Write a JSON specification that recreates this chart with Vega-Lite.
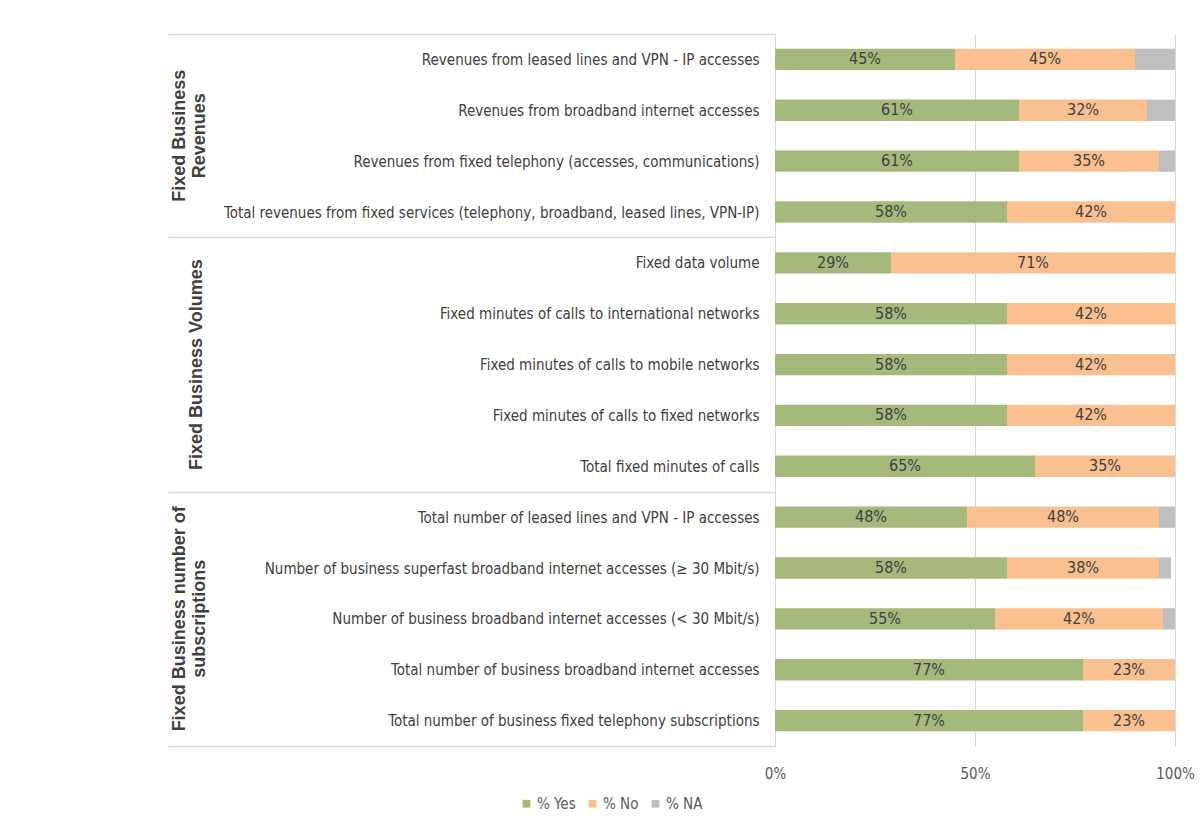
{
  "$schema": "https://vega.github.io/schema/vega-lite/v6.json",
  "width": 400,
  "height": 712,
  "padding": {"left": 167, "top": 27, "right": 15, "bottom": 15},
  "background": "white",
  "datasets": {
    "answers": [
      {"item": "Revenues from leased lines and VPN - IP accesses", "answer": "% Yes", "pct": 0.45},
      {"item": "Revenues from leased lines and VPN - IP accesses", "answer": "% No", "pct": 0.45},
      {"item": "Revenues from leased lines and VPN - IP accesses", "answer": "% NA", "pct": 0.10},
      {"item": "Revenues from broadband internet accesses", "answer": "% Yes", "pct": 0.61},
      {"item": "Revenues from broadband internet accesses", "answer": "% No", "pct": 0.32},
      {"item": "Revenues from broadband internet accesses", "answer": "% NA", "pct": 0.07},
      {"item": "Revenues from fixed telephony (accesses, communications)", "answer": "% Yes", "pct": 0.61},
      {"item": "Revenues from fixed telephony (accesses, communications)", "answer": "% No", "pct": 0.35},
      {"item": "Revenues from fixed telephony (accesses, communications)", "answer": "% NA", "pct": 0.04},
      {"item": "Total revenues from fixed services (telephony, broadband, leased lines, VPN-IP)", "answer": "% Yes", "pct": 0.58},
      {"item": "Total revenues from fixed services (telephony, broadband, leased lines, VPN-IP)", "answer": "% No", "pct": 0.42},
      {"item": "Fixed data volume", "answer": "% Yes", "pct": 0.29},
      {"item": "Fixed data volume", "answer": "% No", "pct": 0.71},
      {"item": "Fixed minutes of calls to international networks", "answer": "% Yes", "pct": 0.58},
      {"item": "Fixed minutes of calls to international networks", "answer": "% No", "pct": 0.42},
      {"item": "Fixed minutes of calls to mobile networks", "answer": "% Yes", "pct": 0.58},
      {"item": "Fixed minutes of calls to mobile networks", "answer": "% No", "pct": 0.42},
      {"item": "Fixed minutes of calls to fixed networks", "answer": "% Yes", "pct": 0.58},
      {"item": "Fixed minutes of calls to fixed networks", "answer": "% No", "pct": 0.42},
      {"item": "Total fixed minutes of calls", "answer": "% Yes", "pct": 0.65},
      {"item": "Total fixed minutes of calls", "answer": "% No", "pct": 0.35},
      {"item": "Total number of leased lines and VPN - IP accesses", "answer": "% Yes", "pct": 0.48},
      {"item": "Total number of leased lines and VPN - IP accesses", "answer": "% No", "pct": 0.48},
      {"item": "Total number of leased lines and VPN - IP accesses", "answer": "% NA", "pct": 0.04},
      {"item": "Number of business superfast broadband  internet accesses (≥ 30 Mbit/s)", "answer": "% Yes", "pct": 0.58},
      {"item": "Number of business superfast broadband  internet accesses (≥ 30 Mbit/s)", "answer": "% No", "pct": 0.38},
      {"item": "Number of business superfast broadband  internet accesses (≥ 30 Mbit/s)", "answer": "% NA", "pct": 0.03},
      {"item": "Number of business broadband internet accesses (< 30 Mbit/s)", "answer": "% Yes", "pct": 0.55},
      {"item": "Number of business broadband internet accesses (< 30 Mbit/s)", "answer": "% No", "pct": 0.42},
      {"item": "Number of business broadband internet accesses (< 30 Mbit/s)", "answer": "% NA", "pct": 0.03},
      {"item": "Total number of business broadband internet accesses", "answer": "% Yes", "pct": 0.77},
      {"item": "Total number of business broadband internet accesses", "answer": "% No", "pct": 0.23},
      {"item": "Total number of business fixed telephony subscriptions", "answer": "% Yes", "pct": 0.77},
      {"item": "Total number of business fixed telephony subscriptions", "answer": "% No", "pct": 0.23}
    ],
    "groups": [
      {"group": "Fixed Business|Revenues", "item": "Revenues from broadband internet accesses", "rows": 4, "lines": 2},
      {"group": "Fixed Business Volumes", "item": "Fixed minutes of calls to mobile networks", "rows": 5, "lines": 1},
      {"group": "Fixed Business number of|subscriptions", "item": "Number of business broadband internet accesses (< 30 Mbit/s)", "rows": 5, "lines": 2}
    ]
  },
  "config": {
    "font": "Liberation Sans Narrow, DejaVu Sans Condensed, Liberation Sans, sans-serif",
    "view": {"stroke": null}
  },
  "encoding": {
    "y": {
      "field": "item",
      "type": "nominal",
      "sort": [
        "Revenues from leased lines and VPN - IP accesses",
        "Revenues from broadband internet accesses",
        "Revenues from fixed telephony (accesses, communications)",
        "Total revenues from fixed services (telephony, broadband, leased lines, VPN-IP)",
        "Fixed data volume",
        "Fixed minutes of calls to international networks",
        "Fixed minutes of calls to mobile networks",
        "Fixed minutes of calls to fixed networks",
        "Total fixed minutes of calls",
        "Total number of leased lines and VPN - IP accesses",
        "Number of business superfast broadband  internet accesses (≥ 30 Mbit/s)",
        "Number of business broadband internet accesses (< 30 Mbit/s)",
        "Total number of business broadband internet accesses",
        "Total number of business fixed telephony subscriptions"
      ],
      "scale": {"paddingInner": 0, "paddingOuter": 0},
      "axis": {
        "title": null,
        "grid": false,
        "domain": true,
        "domainColor": "#d9d9d9",
        "tickBand": "extent",
        "tickSize": 607,
        "tickWidth": 1.5,
        "tickColor": {
          "condition": {
            "test": "datum.extra || indexof(['Total revenues from fixed services (telephony, broadband, leased lines, VPN-IP)', 'Total fixed minutes of calls', 'Total number of business fixed telephony subscriptions'], datum.value) >= 0",
            "value": "#d9d9d9"
          },
          "value": "transparent"
        },
        "labelPadding": -591,
        "labelLimit": 0,
        "labelFontSize": 15,
        "labelColor": "#404040"
      }
    }
  },
  "layer": [
    {
      "data": {"name": "answers"},
      "mark": {"type": "bar", "height": {"band": 0.42}},
      "encoding": {
        "x": {
          "field": "pct",
          "type": "quantitative",
          "stack": "zero",
          "scale": {"domain": [0, 1], "nice": false},
          "axis": {
            "title": null,
            "values": [0, 0.5, 1],
            "format": ".0%",
            "grid": true,
            "gridColor": "#d9d9d9",
            "domain": false,
            "ticks": false,
            "labelFlush": false,
            "labelPadding": 20,
            "labelFontSize": 15,
            "labelColor": "#595959"
          }
        },
        "color": {
          "field": "answer",
          "type": "nominal",
          "scale": {"domain": ["% Yes", "% No", "% NA"], "range": ["#a6b97c", "#fac090", "#bfbfbf"]},
          "legend": {
            "title": null,
            "orient": "none",
            "direction": "horizontal",
            "legendX": -256,
            "legendY": 762,
            "symbolType": "square",
            "symbolSize": 60,
            "symbolStrokeWidth": 0,
            "labelFontSize": 15,
            "labelColor": "#595959",
            "labelOffset": 3,
            "columnPadding": 9
          }
        },
        "order": {"field": "answer", "sort": "descending"}
      }
    },
    {
      "data": {"name": "answers"},
      "transform": [{"filter": "datum.answer !== '% NA'"}],
      "mark": {"type": "text", "fontSize": 16, "color": "#404040", "baseline": "middle"},
      "encoding": {
        "x": {"field": "pct", "type": "quantitative", "stack": "zero", "bandPosition": 0.5},
        "detail": {"field": "answer"},
        "order": {"field": "answer", "sort": "descending"},
        "text": {"field": "pct", "type": "quantitative", "format": ".0%"}
      }
    },
    {
      "data": {"name": "groups"},
      "transform": [{"filter": "datum.rows === 4"}],
      "mark": {"type": "text", "angle": 270, "fontSize": 18, "fontWeight": "bold", "font": "Liberation Sans, sans-serif", "color": "#404040", "lineBreak": "|", "lineHeight": 20, "align": "center", "baseline": "middle"},
      "encoding": {
        "y": {
          "field": "item",
          "type": "nominal",
          "bandPosition": 1,
          "sort": [
            "Revenues from leased lines and VPN - IP accesses",
            "Revenues from broadband internet accesses",
            "Revenues from fixed telephony (accesses, communications)",
            "Total revenues from fixed services (telephony, broadband, leased lines, VPN-IP)",
            "Fixed data volume",
            "Fixed minutes of calls to international networks",
            "Fixed minutes of calls to mobile networks",
            "Fixed minutes of calls to fixed networks",
            "Total fixed minutes of calls",
            "Total number of leased lines and VPN - IP accesses",
            "Number of business superfast broadband  internet accesses (≥ 30 Mbit/s)",
            "Number of business broadband internet accesses (< 30 Mbit/s)",
            "Total number of business broadband internet accesses",
            "Total number of business fixed telephony subscriptions"
          ]
        },
        "x": {"datum": -1.4875},
        "text": {"field": "group"}
      }
    },
    {
      "data": {"name": "groups"},
      "transform": [{"filter": "datum.rows === 5 && datum.lines === 1"}],
      "mark": {"type": "text", "angle": 270, "fontSize": 18, "fontWeight": "bold", "font": "Liberation Sans, sans-serif", "color": "#404040", "lineBreak": "|", "lineHeight": 20, "align": "center", "baseline": "middle"},
      "encoding": {
        "x": {"datum": -1.445},
        "text": {"field": "group"}
      }
    },
    {
      "data": {"name": "groups"},
      "transform": [{"filter": "datum.rows === 5 && datum.lines === 2"}],
      "mark": {"type": "text", "angle": 270, "fontSize": 18, "fontWeight": "bold", "font": "Liberation Sans, sans-serif", "color": "#404040", "lineBreak": "|", "lineHeight": 20, "align": "center", "baseline": "middle"},
      "encoding": {
        "x": {"datum": -1.4875},
        "text": {"field": "group"}
      }
    }
  ]
}
